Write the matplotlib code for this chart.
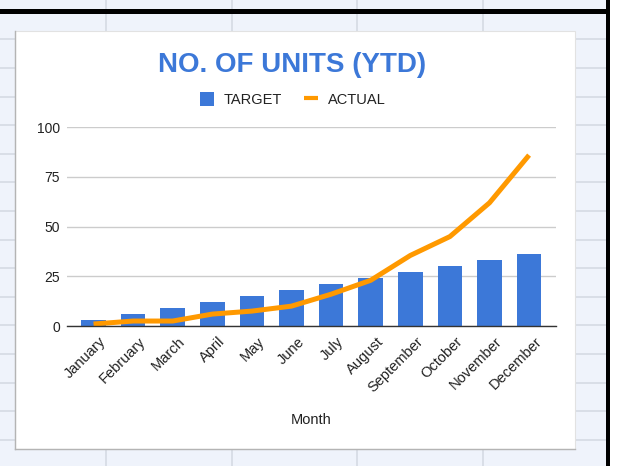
import matplotlib
matplotlib.use('Agg')
import matplotlib.pyplot as plt
from matplotlib.patches import Rectangle
from matplotlib.transforms import ScaledTranslation
import numpy as np

plt.rcParams['font.family'] = ['Liberation Sans', 'DejaVu Sans']

# Dati del grafico
months = ['January', 'February', 'March', 'April', 'May', 'June',
          'July', 'August', 'September', 'October', 'November', 'December']
target = [3, 6, 9, 12, 15, 18, 21, 24, 27, 30, 33, 36]
actual = [1, 2.5, 2.5, 6, 7.5, 10, 16, 23, 35.5, 45, 62, 86]
y_ticks = [0, 25, 50, 75, 100]

W, H = 625, 466
fig = plt.figure(figsize=(W / 100, H / 100), dpi=100)

# Sfondo "foglio di calcolo" disegnato in coordinate pixel
bg = fig.add_axes([0, 0, 1, 1])
bg.set_xlim(0, W)
bg.set_ylim(H, 0)
bg.axis('off')
bg.add_patch(Rectangle((0, 0), W, H, facecolor='#eff3fb', edgecolor='none', zorder=0))

# righe e colonne delle celle
for y in np.arange(39.3, H + 1, 28.6):
    bg.plot([0, 606], [y, y], color='#d3d8e2', lw=1.1, zorder=1)
for x in [106, 232, 357, 483]:
    bg.plot([x, x], [0, H], color='#d3d8e2', lw=1.1, zorder=1)

# bordo nero della selezione e area bianca a destra
bg.add_patch(Rectangle((610, 0), W - 610, H, facecolor='white', edgecolor='none', zorder=2))
bg.add_patch(Rectangle((0, 9), 608, 4.5, facecolor='black', edgecolor='none', zorder=3))
bg.add_patch(Rectangle((605.5, 0), 4.5, H, facecolor='black', edgecolor='none', zorder=3))

# area del grafico
bg.add_patch(Rectangle((15, 31), 560, 418, facecolor='white', edgecolor='#e2e2e2',
                       lw=0.8, zorder=2))
bg.plot([15, 15], [31, 449], color='#b4b4b4', lw=1, zorder=3)
bg.plot([15, 575], [449, 449], color='#b4b4b4', lw=1, zorder=3)

# Titolo e legenda
bg.text(292.5, 72, 'NO. OF UNITS (YTD)', ha='center', va='baseline',
        fontsize=20, fontweight='bold', color='#3c78d8', zorder=4)
bg.add_patch(Rectangle((200, 92), 14, 14, facecolor='#3c78d8', edgecolor='none', zorder=4))
bg.text(224, 104, 'TARGET', ha='left', va='baseline', fontsize=10.5, color='#222222', zorder=4)
bg.plot([304, 318], [97.5, 97.5], color='#ff9900', lw=3, solid_capstyle='butt', zorder=4)
bg.text(328, 104, 'ACTUAL', ha='left', va='baseline', fontsize=10.5, color='#222222', zorder=4)
bg.text(311, 420, 'Month', ha='center', va='center', fontsize=10.5, color='#222222', zorder=4)

# Assi principali
ax = fig.add_axes([67 / W, 1 - 326 / H, (556 - 67) / W, (326 - 127.3) / H])
ax.set_facecolor('none')
x = np.arange(len(months))

ax.bar(x, target, width=0.62, color='#3c78d8', zorder=2)
ax.plot(x, actual, color='#ff9900', lw=3.6, solid_capstyle='butt',
        solid_joinstyle='round', zorder=3)

ax.set_xlim(-0.67, 11.68)
ax.set_ylim(0, 100)
ax.set_yticks(y_ticks)
ax.yaxis.grid(True, color='#cccccc', lw=1.0)
ax.set_axisbelow(True)

for side in ['top', 'right', 'left']:
    ax.spines[side].set_visible(False)
ax.spines['bottom'].set_color('#333333')
ax.spines['bottom'].set_linewidth(1.0)
ax.spines['bottom'].set_zorder(4)

ax.tick_params(axis='y', length=0, pad=5, labelsize=10, labelcolor='#222222')
ax.tick_params(axis='x', length=0, pad=6, labelsize=10.5, labelcolor='#222222')
ax.set_xticks(x)
ax.set_xticklabels(months, rotation=45, ha='right', rotation_mode='anchor')

# sposta leggermente le etichette a destra come nell'originale
offset = ScaledTranslation(4 / 72, 0, fig.dpi_scale_trans)
for label in ax.get_xticklabels():
    label.set_transform(label.get_transform() + offset)

plt.savefig('out.png', dpi=100)
plt.close()
